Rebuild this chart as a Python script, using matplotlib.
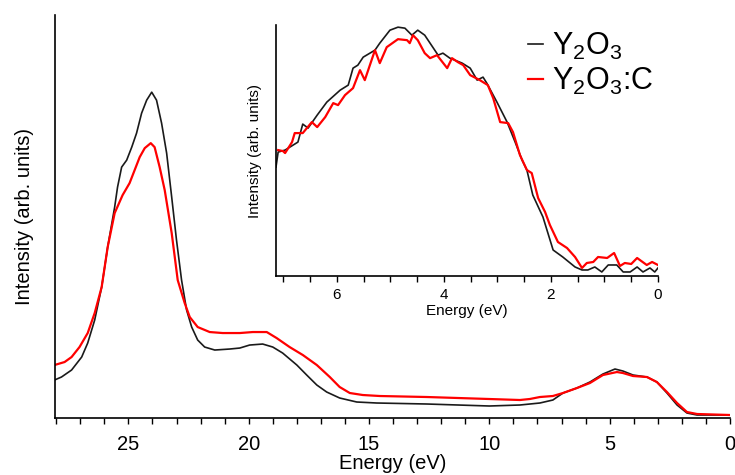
import matplotlib.pyplot as plt

plt.rcParams['font.family'] = ['Liberation Sans', 'DejaVu Sans']
plt.rcParams['mathtext.fontset'] = 'custom'
plt.rcParams['mathtext.rm'] = 'Liberation Sans'

# Main spectrum, Y2O3 (black)
e_y2o3 = [28.07, 27.78, 27.36, 26.94, 26.69, 26.40, 26.11, 25.86, 25.57, 25.45,
          25.28, 25.07, 24.86, 24.66, 24.45, 24.24, 24.03, 23.83, 23.62, 23.41,
          23.20, 23.0, 22.79, 22.58, 22.37, 22.12, 21.83, 21.41, 20.79, 20.37,
          19.96, 19.42, 19.0, 18.59, 18.0, 17.59, 17.17, 16.76, 16.22, 15.51,
          14.68, 12.6, 10.0, 8.73, 7.9, 7.36, 6.94, 6.36, 5.82, 5.28,
          4.78, 4.45, 4.03, 3.45, 3.04, 2.62, 2.2, 1.79, 1.37, 0.0]
i_y2o3 = [38, 41, 48, 61, 75, 98, 131, 171, 211, 231,
          251, 258, 271, 285, 305, 318, 326, 318, 295, 265,
          221, 178, 138, 108, 91, 78, 71, 68, 69, 70,
          73, 74, 71, 65, 53, 43, 33, 26, 20, 16,
          15, 14, 12, 13, 15, 18, 25, 30, 36, 44,
          49, 47, 43, 41, 36, 25, 13, 5, 3, 3]

# Main spectrum, Y2O3:C (red)
e_y2o3c = [28.07, 27.65, 27.36, 27.03, 26.69, 26.40, 26.11, 25.86, 25.57, 25.24,
           24.95, 24.74, 24.53, 24.32, 24.07, 23.91, 23.70, 23.49, 23.20, 22.95,
           22.66, 22.45, 22.12, 21.62, 21.08, 20.37, 19.83, 19.25, 18.84, 18.3,
           17.75, 17.17, 16.63, 16.22, 15.8, 15.26, 14.55, 12.6, 10.0, 8.73,
           8.32, 7.9, 7.36, 6.94, 6.36, 5.82, 5.28, 4.7, 4.45, 4.03,
           3.45, 3.04, 2.62, 2.2, 1.79, 1.37, 0.0]
i_y2o3c = [53, 56, 61, 71, 85, 105, 131, 171, 205, 223,
           235, 248, 261, 270, 275, 271, 251, 228, 185, 138,
           115, 101, 91, 86, 85, 85, 86, 86, 80, 71,
           63, 53, 41, 31, 25, 23, 22, 21, 19, 18,
           19, 21, 22, 25, 30, 35, 43, 46, 45, 42,
           41, 36, 26, 15, 6, 4, 3]

# Inset (band gap region), Y2O3
ein_y2o3 = [7.14, 7.10, 6.97, 6.88, 6.73, 6.64, 6.54, 6.37, 6.19, 5.94,
            5.79, 5.70, 5.61, 5.51, 5.29, 5.20, 5.01, 4.86, 4.73, 4.60,
            4.49, 4.36, 4.21, 4.11, 4.02, 3.89, 3.66, 3.51, 3.38, 3.27,
            3.20, 3.01, 2.82, 2.67, 2.54, 2.45, 2.34, 2.15, 1.96, 1.78,
            1.55, 1.42, 1.31, 1.18, 1.05, 0.93, 0.77, 0.65, 0.52, 0.39,
            0.28, 0.15, 0.06, 0.0]
iin_y2o3 = [109, 124, 126, 129, 134, 152, 148, 161, 174, 186,
            191, 208, 211, 219, 226, 233, 246, 249, 248, 241,
            246, 241, 229, 221, 223, 218, 213, 208, 196, 199,
            193, 174, 154, 134, 116, 106, 81, 59, 26, 19,
            9, 6, 6, 9, 4, 11, 11, 4, 4, 9,
            4, 8, 4, 8]

# Inset, Y2O3:C
ein_y2o3c = [7.10, 7.01, 6.97, 6.84, 6.79, 6.64, 6.47, 6.37, 6.22, 6.07,
             5.98, 5.85, 5.70, 5.57, 5.48, 5.29, 5.20, 5.07, 4.86, 4.69,
             4.64, 4.58, 4.49, 4.36, 4.26, 4.13, 3.94, 3.85, 3.74, 3.64,
             3.51, 3.33, 3.18, 3.08, 2.95, 2.80, 2.71, 2.58, 2.45, 2.36,
             2.24, 2.11, 2.02, 1.87, 1.70, 1.55, 1.42, 1.33, 1.21, 1.12,
             0.95, 0.82, 0.71, 0.62, 0.50, 0.39, 0.21, 0.11, 0.0]
iin_y2o3c = [126, 125, 123, 134, 143, 143, 154, 149, 159, 173,
             171, 181, 188, 206, 196, 226, 213, 229, 237, 236,
             233, 241, 236, 223, 218, 221, 208, 218, 214, 211,
             201, 196, 191, 178, 154, 153, 144, 121, 106, 103,
             78, 64, 51, 34, 28, 19, 8, 13, 14, 19,
             18, 23, 10, 13, 12, 18, 11, 14, 11]

main_ticks = [25, 20, 15, 10, 5, 0]
inset_ticks = [6, 4, 2, 0]

fig = plt.figure(figsize=(7.35, 4.75), dpi=100)

# main panel
ax = fig.add_axes([0.0748, 0.12, 0.9184, 0.848])
l1, = ax.plot(e_y2o3, i_y2o3, color='#1a1a1a', lw=1.2)
l2, = ax.plot(e_y2o3c, i_y2o3c, color='#ff0000', lw=1.6)
ax.set_xlim(28.05, 0)
ax.set_ylim(0, 403)
ax.set_xticks(main_ticks)
ax.set_xticks(range(28, 0, -1), minor=True)
ax.set_yticks([])
for s in ['top', 'right']:
    ax.spines[s].set_visible(False)
for s in ['left', 'bottom']:
    ax.spines[s].set_linewidth(1.2)
ax.tick_params(axis='x', which='both', direction='out', length=4, width=1,
               labelsize=14.5, pad=8)
ax.set_xlabel('Energy (eV)', fontsize=14.5, labelpad=0)
ax.set_ylabel('Intensity (arb. units)', fontsize=14.5, labelpad=15)

# inset panel
axi = fig.add_axes([0.3755, 0.419, 0.5197, 0.528])
axi.plot(ein_y2o3, iin_y2o3, color='#1a1a1a', lw=1.2)
axi.plot(ein_y2o3c, iin_y2o3c, color='#ff0000', lw=1.6)
axi.set_xlim(7.14, 0)
axi.set_ylim(0, 251)
axi.set_xticks(inset_ticks)
axi.set_xticks([i * 0.5 for i in range(14, -1, -1)], minor=True)
axi.set_yticks([])
for s in ['top', 'right']:
    axi.spines[s].set_visible(False)
for s in ['left', 'bottom']:
    axi.spines[s].set_linewidth(1.2)
axi.tick_params(axis='x', which='both', direction='out', length=4, width=1,
                labelsize=11, pad=5)
axi.set_xlabel('Energy (eV)', fontsize=11, labelpad=1)
axi.set_ylabel('Intensity (arb. units)', fontsize=11, labelpad=10)

# legend on top of everything
fig.legend([l1, l2], [r'$\mathregular{Y_2O_3}$', r'$\mathregular{Y_2O_3}$:C'],
           loc='upper left', bbox_to_anchor=(0.718, 0.935), frameon=False,
           fontsize=22, handlelength=0.5, handletextpad=0.3, labelspacing=0.12,
           borderaxespad=0, borderpad=0)

fig.savefig('out.png', dpi=100)
